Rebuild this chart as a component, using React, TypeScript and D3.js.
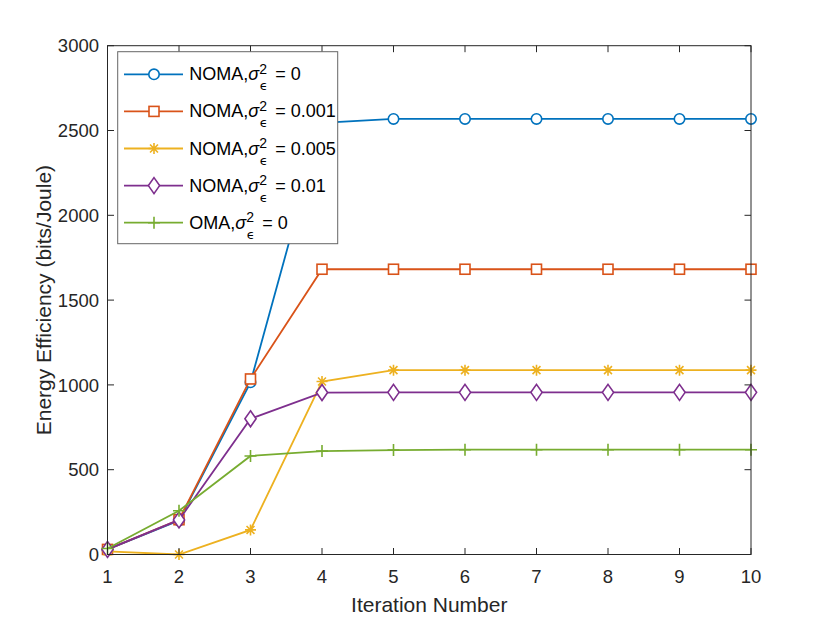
import React from "react";
import * as d3 from "d3";

const iterations = [1, 2, 3, 4, 5, 6, 7, 8, 9, 10];
const noma0 = [30, 200, 1015, 2545, 2568, 2568, 2568, 2568, 2568, 2568];
const noma001 = [30, 205, 1035, 1682, 1682, 1682, 1682, 1682, 1682, 1682];
const noma005 = [18, 0, 145, 1020, 1087, 1087, 1087, 1087, 1087, 1087];
const noma01 = [30, 204, 800, 955, 956, 956, 956, 956, 956, 956];
const oma0 = [35, 258, 581, 610, 616, 618, 618, 618, 618, 618];
const xTicks = [1, 2, 3, 4, 5, 6, 7, 8, 9, 10];
const yTicks = [0, 500, 1000, 1500, 2000, 2500, 3000];

type Marker = "circle" | "square" | "star" | "diamond" | "plus";
const series: { prefix: string; value: string; data: number[]; color: string; marker: Marker }[] = [
  { prefix: "NOMA,", value: "0", data: noma0, color: "#0072BD", marker: "circle" },
  { prefix: "NOMA,", value: "0.001", data: noma001, color: "#D95319", marker: "square" },
  { prefix: "NOMA,", value: "0.005", data: noma005, color: "#EDB120", marker: "star" },
  { prefix: "NOMA,", value: "0.01", data: noma01, color: "#7E2F8E", marker: "diamond" },
  { prefix: "OMA,", value: "0", data: oma0, color: "#77AC30", marker: "plus" },
];

const W = 830;
const H = 623;
const left = 107.5;
const right = 751;
const top = 45.7;
const bottom = 554.5;
const axisColor = "#262626";
const font = "'Liberation Sans', Arial, Helvetica, sans-serif";

function MarkerShape({ type, x, y, color }: { type: Marker; x: number; y: number; color: string }) {
  const sw = 1.6;
  switch (type) {
    case "circle":
      return <circle cx={x} cy={y} r={5.2} fill="white" stroke={color} strokeWidth={sw} />;
    case "square":
      return <rect x={x - 5} y={y - 5} width={10} height={10} fill="white" stroke={color} strokeWidth={sw} />;
    case "diamond":
      return (
        <path
          d={`M${x},${y - 8} L${x + 5.6},${y} L${x},${y + 8} L${x - 5.6},${y} Z`}
          fill="white"
          stroke={color}
          strokeWidth={sw}
        />
      );
    case "star": {
      const r = 5.5;
      const d = r * 0.72;
      return (
        <path
          d={`M${x - r},${y} L${x + r},${y} M${x},${y - r} L${x},${y + r} M${x - d},${y - d} L${x + d},${y + d} M${x - d},${y + d} L${x + d},${y - d}`}
          stroke={color}
          strokeWidth={sw}
          fill="none"
        />
      );
    }
    case "plus": {
      const r = 6;
      return (
        <path
          d={`M${x - r},${y} L${x + r},${y} M${x},${y - r} L${x},${y + r}`}
          stroke={color}
          strokeWidth={sw}
          fill="none"
        />
      );
    }
  }
}

export default function App() {
  const x = d3.scaleLinear().domain([1, 10]).range([left, right]);
  const y = d3.scaleLinear().domain([0, 3000]).range([bottom, top]);
  const line = d3
    .line<number>()
    .x((_, i) => x(iterations[i]))
    .y((d) => y(d));

  const tick = 6.5;
  const legX = 117.7;
  const legY = 51.7;
  const legW = 220;
  const legH = 192;
  const rowY0 = 74.3;
  const rowStep = 37.1;

  return (
    <svg
      width={W}
      height={H}
      viewBox={`0 0 ${W} ${H}`}
      style={{ position: "absolute", left: 0, top: 0, background: "white" }}
      fontFamily={font}
    >
      <rect x={0} y={0} width={W} height={H} fill="white" />
      {series.map((s, si) => (
        <g key={si}>
          <path d={line(s.data) || ""} fill="none" stroke={s.color} strokeWidth={1.8} />
          {s.data.map((v, i) => (
            <MarkerShape key={i} type={s.marker} x={x(iterations[i])} y={y(v)} color={s.color} />
          ))}
        </g>
      ))}
      <rect x={left} y={top} width={right - left} height={bottom - top} fill="none" stroke={axisColor} strokeWidth={1} />
      {xTicks.map((t) => (
        <g key={"x" + t}>
          <line x1={x(t)} x2={x(t)} y1={bottom} y2={bottom - tick} stroke={axisColor} strokeWidth={1} />
          <line x1={x(t)} x2={x(t)} y1={top} y2={top + tick} stroke={axisColor} strokeWidth={1} />
          <text x={x(t)} y={583} textAnchor="middle" fontSize={18.5} fill={axisColor}>
            {t}
          </text>
        </g>
      ))}
      {yTicks.map((t) => (
        <g key={"y" + t}>
          <line x1={left} x2={left + tick} y1={y(t)} y2={y(t)} stroke={axisColor} strokeWidth={1} />
          <line x1={right} x2={right - tick} y1={y(t)} y2={y(t)} stroke={axisColor} strokeWidth={1} />
          <text x={99} y={y(t) + 6.6} textAnchor="end" fontSize={18.5} fill={axisColor}>
            {t}
          </text>
        </g>
      ))}
      <text x={(left + right) / 2} y={612} textAnchor="middle" fontSize={21} fill={axisColor}>
        Iteration Number
      </text>
      <text
        transform={`translate(51, ${(top + bottom) / 2}) rotate(-90)`}
        textAnchor="middle"
        fontSize={21}
        fill={axisColor}
      >
        Energy Efficiency (bits/Joule)
      </text>
      <rect x={legX} y={legY} width={legW} height={legH} fill="white" stroke="#666" strokeWidth={1} />
      {series.map((s, i) => {
        const cy = rowY0 + i * rowStep;
        return (
          <g key={"l" + i}>
            <line x1={124} x2={183} y1={cy} y2={cy} stroke={s.color} strokeWidth={1.8} />
            <MarkerShape type={s.marker} x={154} y={cy} color={s.color} />
            <text x={189.3} y={cy + 6} fontSize={18} fill="#000">
              <tspan>{s.prefix}</tspan>
              <tspan fontStyle="italic">σ</tspan>
              <tspan fontSize={14} dy={-6.7}>2</tspan>
              <tspan fontSize={13} dx={-7.2} dy={16.7} fontFamily="'DejaVu Sans', sans-serif">ϵ</tspan>
              <tspan dy={-10} dx={2.5}>{" = " + s.value}</tspan>
            </text>
          </g>
        );
      })}
    </svg>
  );
}
